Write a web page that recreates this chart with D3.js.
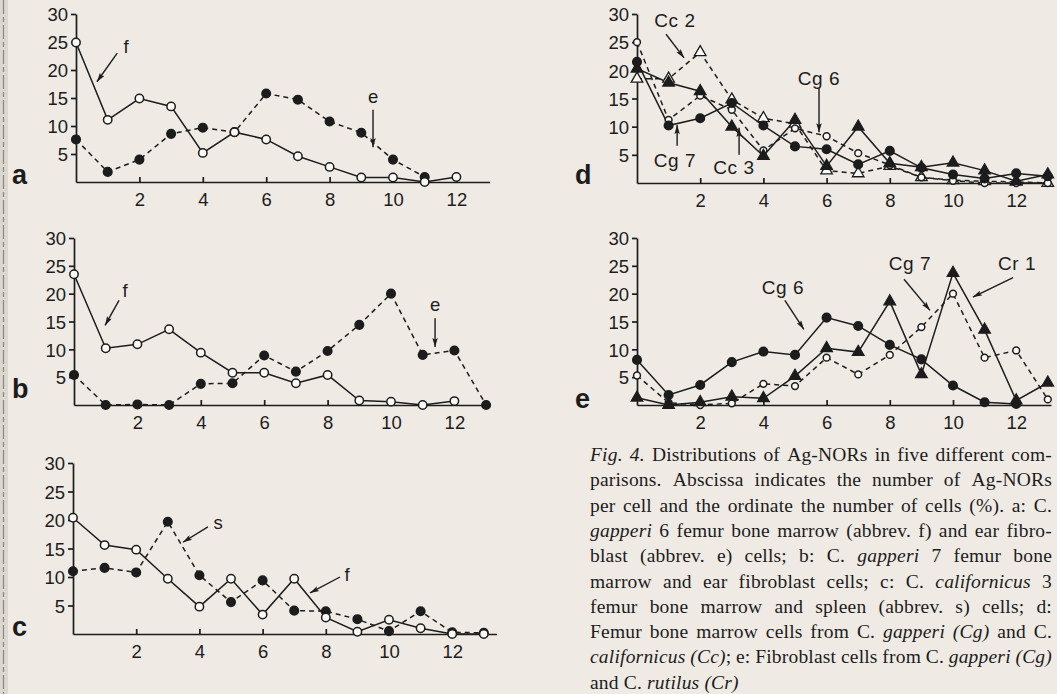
<!DOCTYPE html>
<html>
<head>
<meta charset="utf-8">
<script src="https://cdn.jsdelivr.net/npm/d3@7"></script>
<style>
  body { margin: 0; background: #efebe4; }
  svg { display: block; font-family: "Liberation Sans", Arial, sans-serif; }
</style>
</head>
<body>
<script>
const width = 1057;
const height = 694;
const ink = '#1c1c1c';
const paper = '#fbfaf6';

// tick labels shared by all five panels
const xTicks = [2, 4, 6, 8, 10, 12];
const yTicks = [5, 10, 15, 20, 25, 30];

// a: C. gapperi 6, femur (f) vs ear fibroblast (e)
const aFemur = [24.9, 11.1, 14.9, 13.5, 5.2, 8.9, 7.6, 4.6, 2.7, 0.8, 0.8, 0, 0.9];
const aEar = [7.6, 1.8, 4, 8.6, 9.7, 8.9, 15.8, 14.7, 10.8, 8.8, 4, 0.9];

// b: C. gapperi 7
const bFemur = [23.5, 10.2, 10.9, 13.6, 9.4, 5.8, 5.8, 3.9, 5.4, 0.8, 0.6, 0, 0.7];
const bEar = [5.4, 0, 0.1, 0, 3.8, 3.9, 8.9, 6, 9.7, 14.4, 20, 9, 9.8, 0];

// c: C. californicus 3, femur (f) vs spleen (s)
const cFemur = [20.4, 15.6, 14.8, 9.7, 4.8, 9.7, 3.4, 9.7, 2.9, 0.4, 2.5, 1, 0, 0];
const cSpleen = [11, 11.6, 10.8, 19.7, 10.3, 5.6, 9.4, 4.1, 4, 2.6, 0.5, 4, 0.3, 0.2];

// d: femur bone marrow, Cg vs Cc
const dCg6 = [25, 11.2, 15.5, 13, 5.8, 9.7, 8.3, 5.3, 3.2, 1, 0.4, 0, 0, 0];
const dCg7 = [21.5, 10.2, 11.5, 14.2, 10.2, 6.5, 6, 3.3, 5.7, 2.7, 1.5, 0.8, 1.7, 1.2];
const dCc3 = [20.3, 17.8, 16.3, 10, 4.8, 11.2, 3, 10, 3.5, 2.8, 3.6, 2.2, 0.3, 1.5];
const dCc2 = [18.5, 18.5, 23.2, 14.8, 11.5, 10.5, 2.2, 1.7, 3, 1, 0.5, 0.3, 0.2, 0];

// e: fibroblasts, Cg vs Cr
const eCg6 = [8.1, 1.8, 3.6, 7.7, 9.6, 9, 15.7, 14.2, 10.8, 8.2, 3.5, 0.5, 0.2];
const eCg7 = [5.3, 0.4, 0, 0.3, 3.8, 3.4, 8.5, 5.5, 9, 14, 20, 8.5, 9.8, 1];
const eCr1 = [1.3, 0, 0.5, 1.5, 1.2, 5.2, 10.2, 9.5, 18.6, 5.5, 23.7, 13.5, 0.8, 4];

// label text, label position and arrow (from, to) in data units
const panels = [
  { name: 'a', ox: 76, base: 182, top: 14, unit: 31.7, xEnd: 13.05, letter: [12, 184],
    series: [
      { values: aEar, marker: 'dot', dashed: true },
      { values: aFemur, marker: 'ring', dashed: false }],
    notes: [
      { text: 'f', at: [1.58, 24.2], from: [1.3, 23], to: [0.66, 17.9] },
      { text: 'e', at: [9.37, 15.2], from: [9.37, 12.9], to: [9.37, 6.2] }] },
  { name: 'b', ox: 74, base: 405, top: 238, unit: 31.7, xEnd: 13.05, letter: [12, 398],
    series: [
      { values: bEar, marker: 'dot', dashed: true },
      { values: bFemur, marker: 'ring', dashed: false }],
    notes: [
      { text: 'f', at: [1.61, 20.5], from: [1.42, 18.8], to: [0.98, 14.3] },
      { text: 'e', at: [11.39, 18.1], from: [11.39, 15.6], to: [11.39, 10.4] }] },
  { name: 'c', ox: 73, base: 634, top: 463, unit: 31.6, xEnd: 13.4, letter: [12, 636],
    series: [
      { values: cSpleen, marker: 'dot', dashed: true },
      { values: cFemur, marker: 'ring', dashed: false }],
    notes: [
      { text: 's', at: [4.59, 19.6], from: [4.27, 18.8], to: [3.48, 16.1] },
      { text: 'f', at: [8.67, 10.5], from: [8.45, 10], to: [7.5, 7.2] }] },
  { name: 'd', ox: 637, base: 183, top: 14, unit: 31.6, xEnd: 13.1, letter: [575, 184],
    series: [
      { values: dCc2, marker: 'openTri', dashed: true },
      { values: dCg6, marker: 'ring', dashed: true, r: 3.4 },
      { values: dCg7, marker: 'dot', dashed: false },
      { values: dCc3, marker: 'tri', dashed: false }],
    notes: [
      { text: 'Cc 2', at: [1.2, 28.9], from: [0.92, 26.4], to: [1.49, 22.2] },
      { text: 'Cg 6', at: [5.76, 18.6], from: [5.76, 16.8], to: [5.76, 9.0] },
      { text: 'Cg 7', at: [1.2, 4.1], from: [1.27, 6.6], to: [1.27, 10.3] },
      { text: 'Cc 3', at: [3.07, 2.7], from: [3.23, 5.0], to: [3.23, 9.8] }] },
  { name: 'e', ox: 637, base: 405, top: 238, unit: 31.6, xEnd: 13.1, letter: [575, 408],
    series: [
      { values: eCg7, marker: 'ring', dashed: true, r: 3.4 },
      { values: eCg6, marker: 'dot', dashed: false },
      { values: eCr1, marker: 'tri', dashed: false }],
    notes: [
      { text: 'Cg 6', at: [4.62, 21.1], from: [4.68, 18.8], to: [5.28, 13.6] },
      { text: 'Cg 7', at: [8.64, 25.4], from: [8.45, 22.6], to: [9.27, 17] },
      { text: 'Cr 1', at: [12.03, 25.4], from: [11.9, 22.9], to: [10.63, 19.4] }] }
];

// caption, *...* marks italic
const captionLines = [
  '*Fig. 4.* Distributions of Ag-NORs in five different com-',
  'parisons. Abscissa indicates the number of Ag-NORs',
  'per cell and the ordinate the number of cells (%). a: C.',
  '*gapperi* 6 femur bone marrow (abbrev. f) and ear fibro-',
  'blast (abbrev. e) cells; b: C. *gapperi* 7 femur bone',
  'marrow and ear fibroblast cells; c: C. *californicus* 3',
  'femur bone marrow and spleen (abbrev. s) cells; d:',
  'Femur bone marrow cells from C. *gapperi (Cg)* and C.',
  '*californicus (Cc)*; e: Fibroblast cells from C. *gapperi (Cg)*',
  'and C. *rutilus (Cr)*'
];

let svg = d3.select('body').append('svg')
  .attr('width', width)
  .attr('height', height);

svg.append('rect').attr('width', width).attr('height', height).attr('fill', '#efebe4');

// binding edge of the scanned page
svg.append('rect').attr('x', 0).attr('width', 8).attr('height', height).attr('fill', '#dcd7cf');
svg.append('line').attr('x1', 3.5).attr('x2', 3.5).attr('y1', 0).attr('y2', height)
  .attr('stroke', '#8a8680').attr('stroke-width', 1.2).attr('stroke-dasharray', '14,3,5,3');

svg.append('defs').append('marker')
  .attr('id', 'arrow')
  .attr('viewBox', '0 0 10 6')
  .attr('refX', 10).attr('refY', 3)
  .attr('markerWidth', 10).attr('markerHeight', 5.5)
  .attr('markerUnits', 'userSpaceOnUse')
  .attr('orient', 'auto')
  .append('path').attr('d', 'M0,0L10,3L0,6L2,3Z').attr('fill', ink);

const triangle = d3.symbol(d3.symbolTriangle).size(58);

panels.forEach(p => {
  const x = d3.scaleLinear().domain([0, p.xEnd]).range([p.ox, p.ox + p.xEnd * p.unit]);
  const y = d3.scaleLinear().domain([0, 30]).range([p.base, p.top]);
  const g = svg.append('g').attr('class', 'panel-' + p.name);

  // axes
  const xAxis = g.append('g')
    .attr('transform', `translate(0,${p.base})`)
    .call(d3.axisBottom(x).tickValues(xTicks).tickSize(-5).tickSizeOuter(0).tickPadding(11));
  const yAxis = g.append('g')
    .attr('transform', `translate(${p.ox},0)`)
    .call(d3.axisLeft(y).tickValues(yTicks).tickSize(5).tickSizeOuter(0).tickPadding(3));
  [xAxis, yAxis].forEach(a => {
    a.attr('font-family', null).attr('font-size', null);
    a.selectAll('path, line').attr('stroke', ink).attr('stroke-width', 1.7);
    a.selectAll('text').attr('fill', ink).attr('font-size', 18.5);
  });
  yAxis.selectAll('text').attr('dy', '0.36em');

  // lines first, markers on top
  const line = d3.line().x((d, i) => x(i)).y(d => y(d));
  p.series.forEach(s => {
    g.append('path')
      .attr('d', line(s.values))
      .attr('fill', 'none')
      .attr('stroke', ink)
      .attr('stroke-width', 1.5)
      .attr('stroke-dasharray', s.dashed ? '5,4' : null);
  });
  p.series.forEach(s => {
    const pts = g.append('g').selectAll('.pt')
      .data(s.values)
      .join(s.marker === 'ring' || s.marker === 'dot' ? 'circle' : 'path');
    if (s.marker === 'ring' || s.marker === 'dot') {
      pts.attr('cx', (d, i) => x(i)).attr('cy', d => y(d))
        .attr('r', s.r || (s.marker === 'dot' ? 4.3 : 4.2))
        .attr('fill', s.marker === 'dot' ? ink : paper)
        .attr('stroke', ink).attr('stroke-width', 1.5);
    } else {
      pts.attr('d', triangle)
        .attr('transform', (d, i) => `translate(${x(i)},${y(d)})`)
        .attr('fill', s.marker === 'tri' ? ink : paper)
        .attr('stroke', ink).attr('stroke-width', 1.3);
    }
  });

  // arrows and labels
  p.notes.forEach(n => {
    g.append('line')
      .attr('x1', x(n.from[0])).attr('y1', y(n.from[1]))
      .attr('x2', x(n.to[0])).attr('y2', y(n.to[1]))
      .attr('stroke', ink).attr('stroke-width', 1.4)
      .attr('marker-end', 'url(#arrow)');
    g.append('text')
      .attr('x', x(n.at[0])).attr('y', y(n.at[1]))
      .attr('text-anchor', 'middle').attr('dy', '0.35em')
      .attr('fill', ink)
      .attr('font-size', n.text.length > 1 ? 19 : 18.5)
      .attr('letter-spacing', n.text.length > 1 ? 0.6 : 0)
      .text(n.text);
  });

  g.append('text')
    .attr('x', p.letter[0]).attr('y', p.letter[1])
    .attr('fill', ink)
    .attr('font-size', 27).attr('font-weight', 'bold')
    .text(p.name);
});

// justified caption in serif type
const cap = svg.append('g').attr('class', 'caption')
  .attr('font-family', '"Liberation Serif", "Times New Roman", serif')
  .attr('font-size', 19.5)
  .attr('letter-spacing', 0.2)
  .attr('fill', ink);
const capLeft = 590, capRight = 1052, capTop = 461, capStep = 25.3;

const parseLine = str => {
  let words = [], cur = [];
  str.split('*').forEach((chunk, k) => {
    chunk.split(' ').forEach((part, j) => {
      if (j > 0 && cur.length) { words.push(cur); cur = []; }
      if (part) cur.push({ t: part, it: k % 2 === 1 });
    });
  });
  if (cur.length) words.push(cur);
  return words;
};

const probe = cap.append('text').attr('x', -999).attr('y', -999);
const measure = frag => {
  probe.attr('font-style', frag.it ? 'italic' : 'normal').text(frag.t);
  return probe.node().getComputedTextLength();
};
const spaceW = 5;

captionLines.forEach((str, li) => {
  const words = parseLine(str);
  words.forEach(w => w.forEach(f => { f.w = measure(f); }));
  const widths = words.map(w => d3.sum(w, f => f.w));
  const last = li === captionLines.length - 1;
  const gap = last ? spaceW : (capRight - capLeft - d3.sum(widths)) / (words.length - 1);
  const t = cap.append('text').attr('y', capTop + li * capStep);
  let cx = capLeft;
  words.forEach(w => {
    w.forEach(f => {
      t.append('tspan').attr('x', cx)
        .attr('font-style', f.it ? 'italic' : 'normal')
        .text(f.t);
      cx += f.w;
    });
    cx += gap;
  });
});
probe.remove();
</script>
</body>
</html>
